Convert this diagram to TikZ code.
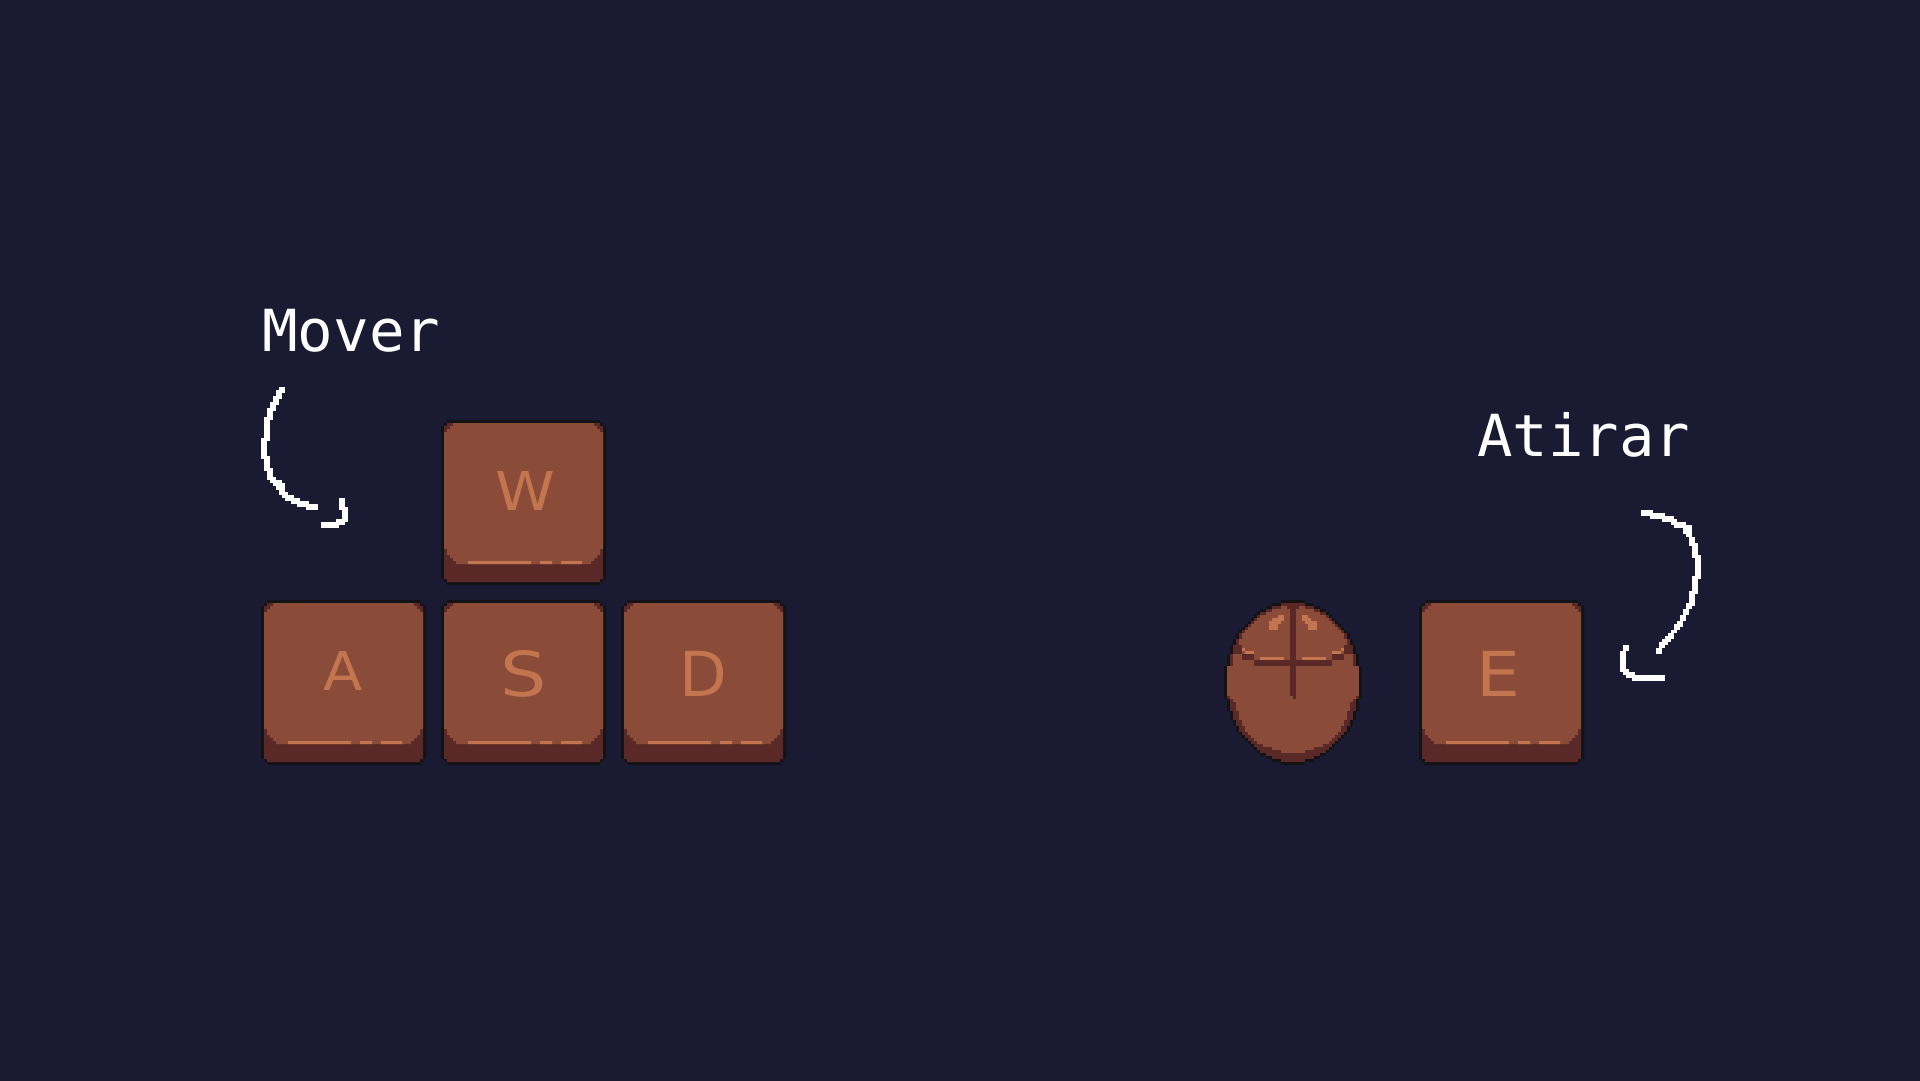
\documentclass[tikz,border=0pt]{standalone}
\usepackage{fontspec}
\setmainfont{DejaVu Sans}
\newfontfamily\labelfont{DejaVu Sans Mono}
\definecolor{bgc}{HTML}{1A1A32}
\definecolor{capc}{HTML}{8A4B38}
\definecolor{rimc}{HTML}{5A2927}
\definecolor{hic}{HTML}{C2754E}
\definecolor{edgec}{HTML}{131316}
\tikzset{
  keyletter/.style={text=hic,anchor=base,inner sep=0pt},
  biglegend/.style={text=white,anchor=base west,inner sep=0pt,font=\labelfont\fontsize{58}{58}\selectfont},
  pxstroke/.style={fill=white,draw=none},
}
\newcommand{\keycap}[2]{%
  \begin{scope}[shift={(#1,#2)},x=3pt,y=-3pt]
    \fill[edgec] (2,0)--(53,0)--(53,1)--(54,1)--(54,2)--(55,2)--(55,53)--(54,53)--(54,54)--(53,54)--(53,55)--(2,55)--(2,54)--(1,54)--(1,53)--(0,53)--(0,2)--(1,2)--(1,1)--(2,1)--cycle;
    \fill[rimc] (2,1)--(53,1)--(53,2)--(54,2)--(54,53)--(53,53)--(53,54)--(2,54)--(2,53)--(1,53)--(1,2)--(2,2)--cycle;
    \fill[capc] (4,1)--(51,1)--(51,2)--(52,2)--(52,3)--(53,3)--(53,4)--(54,4)--(54,43)--(53,43)--(53,45)--(52,45)--(52,46)--(51,46)--(51,47)--(50,47)--(50,48)--(5,48)--(5,47)--(4,47)--(4,46)--(3,46)--(3,45)--(2,45)--(2,43)--(1,43)--(1,4)--(2,4)--(2,3)--(3,3)--(3,2)--(4,2)--cycle;
    \fill[hic] (9,47) rectangle (30,48) (33,47) rectangle (37,48) (40,47) rectangle (47,48);
  \end{scope}}
\begin{document}
\begin{tikzpicture}[x=1pt,y=-1pt]
\useasboundingbox (0,0) rectangle (1920,1080);
\fill[bgc] (-10,-10) rectangle (1930,1090);

% keys
\keycap{441}{420}
\keycap{261}{600}
\keycap{441}{600}
\keycap{621}{600}
\keycap{1419}{600}
\node[keyletter,font=\fontsize{53.5}{54}\selectfont] (keyW) at (525,510) {\scalebox{1.13}[1]{W}};
\node[keyletter,font=\fontsize{53.5}{54}\selectfont] (keyA) at (343.5,690) {\scalebox{1.07}[1]{A}};
\node[keyletter,font=\fontsize{62}{62}\selectfont] (keyS) at (523.5,696) {\scalebox{1.18}[1]{S}};
\node[keyletter,font=\fontsize{62}{62}\selectfont] (keyD) at (703.5,696) {D};
\node[keyletter,font=\fontsize{62}{62}\selectfont] (keyE) at (1498.5,696) {\scalebox{1.12}[1]{E}};

% labels
\node[biglegend] (mover) at (262,351) {\scalebox{1.02}[1]{Mover}};
\node[biglegend] (atirar) at (1477,456) {\scalebox{1.016}[1]{Atirar}};

% mouse
\begin{scope}[shift={(1210,590)},x=0.333333pt,y=-0.333333pt]
\foreach \a/\b/\c/\d in {213/285/30/39,186/312/39/48,168/330/48/57,150/348/57/66,141/357/66/75,132/366/75/84,123/375/84/93,114/384/93/102,105/393/102/111,96/402/111/120,87/411/120/129,78/420/129/147,69/429/147/165,60/438/165/192,51/447/192/228,42/456/228/327,51/447/327/363,60/438/363/390,69/429/390/408,78/420/408/426,87/411/426/435,96/402/435/444,105/393/444/453,114/384/453/462,123/375/462/471,132/366/471/480,141/357/480/489,150/348/489/498,168/330/498/507,186/312/507/516,213/285/516/525}
  \fill[edgec] (\a,\c) rectangle (\b,\d);
\foreach \a/\b/\c/\d in {213/285/39/48,186/312/48/57,168/330/57/66,150/348/66/75,141/357/75/84,132/366/84/93,123/375/93/102,114/384/102/111,105/393/111/120,96/402/120/129,87/411/129/147,78/420/147/165,69/429/165/192,60/438/192/228,51/447/228/327,60/438/327/363,69/429/363/390,78/420/390/408,87/411/408/426,96/402/426/435,105/393/435/444,114/384/444/453,123/375/453/462,132/366/462/471,141/357/471/480,150/348/480/489,168/330/489/498,186/312/498/507,213/285/507/516}
  \fill[rimc] (\a,\c) rectangle (\b,\d);
\foreach \a/\b/\c/\d in {213/285/48/57,186/312/57/66,168/330/66/75,150/348/75/84,141/357/84/93,132/366/93/102,123/375/102/111,114/384/111/120,105/393/120/129,96/402/129/147,87/411/147/165,96/402/165/192,69/429/192/228,51/447/228/318,60/438/318/327,69/429/327/336,78/420/336/363,87/411/363/390,96/402/390/408,105/393/408/426,114/384/426/435,123/375/435/444,132/366/444/453,141/357/453/462,159/339/462/471,186/312/471/480,213/285/480/489}
  \fill[capc] (\a,\c) rectangle (\b,\d);
% button seams
\foreach \a/\b/\c/\d in {231/267/39/57,240/258/57/318,249/258/318/327,132/366/210/228,96/132/192/210,366/402/192/210,69/96/165/192,402/429/165/192}
  \fill[rimc] (\a,\c) rectangle (\b,\d);
% highlights
\foreach \a/\b/\c/\d in {204/222/75/84,186/222/84/93,177/213/93/102,177/204/102/120,276/294/75/84,276/303/84/93,285/321/93/102,294/321/102/120,150/222/201/210,276/348/201/210,96/105/174/183,105/132/183/192,366/393/183/192,393/402/174/183}
  \fill[hic] (\a,\c) rectangle (\b,\d);
\end{scope}

% Mover arrow
\begin{scope}[shift={(250,290)},x=0.333333pt,y=-0.333333pt]
\coordinate (moverStart) at (96,291);
\coordinate (moverEnd) at (213,705);
\foreach \a/\b/\c/\d in {87/105/291/309,78/96/300/327,69/87/318/345,60/78/336/363,51/69/354/390,42/60/381/453,33/51/444/507,42/60/498/543,51/69/534/570,60/78/561/579,69/96/570/588,78/105/579/600,87/105/597/615,96/114/606/624,105/132/615/633,123/150/624/642,141/177/633/651,168/204/642/660,267/285/624/660,276/294/651/696,258/285/687/705,213/267/696/714}
  \fill[pxstroke] (\a,\c) rectangle (\b,\d);
\end{scope}

% Atirar arrow
\begin{scope}[shift={(1460,400)},x=0.333333pt,y=-0.333333pt]
\coordinate (atirarStart) at (543,339);
\coordinate (atirarEnd) at (498,735);
\foreach \a/\b/\c/\d in {543/579/330/348,570/615/339/357,606/642/348/366,633/651/357/375,642/678/366/384,669/696/375/402,678/696/393/411,687/705/411/438,696/714/429/474,705/723/465/537,696/714/528/582,687/705/573/618,678/696/609/627,669/687/627/645,660/678/645/663,651/669/663/681,642/660/672/690,633/651/690/699,624/642/699/717,615/633/708/726,606/624/717/735,597/615/726/744,588/606/744/762,489/507/735/753,480/498/753/816,489/507/807/825,498/525/816/834,516/615/825/843}
  \fill[pxstroke] (\a,\c) rectangle (\b,\d);
\end{scope}
\end{tikzpicture}
\end{document}
